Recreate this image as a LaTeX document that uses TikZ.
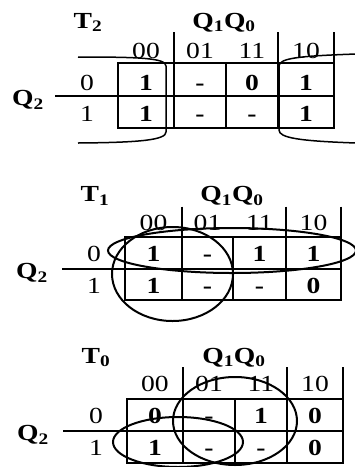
\documentclass[tikz,border=0pt]{standalone}
\usepackage{fontspec}
\setmainfont{Liberation Serif}[FakeStretch=1.2]
\newcommand{\kfont}{\fontsize{23}{27}\selectfont}
\tikzset{
  lbl/.style={anchor=base, inner sep=0pt, font=\kfont},
  val/.style={lbl, font=\kfont\bfseries},
  brace/.style={line width=1.5pt},
}

\begin{document}
\begin{tikzpicture}[x=1pt, y=-1pt, line width=2pt]
  \useasboundingbox (0,0) rectangle (355,467);

  % T_2 map
  \node[val] (t2) at (88,28) {T\textsubscript{2}};
  \node[val] (qa) at (224,28) {Q\textsubscript{1}Q\textsubscript{0}};
  \draw (118,63) rectangle (334,127.5);
  \draw (118,96) -- (334,96);
  \draw (174,32) -- (174,127.5);
  \draw (226,63) -- (226,127.5);
  \draw (278,32) -- (278,127.5);
  \draw (334,32) -- (334,63);
  \coordinate (la) at (55,96);
  \coordinate (ga) at (118,96);
  \draw (la) -- (ga);
  \node[val] (q2a) at (28,105.5) {Q\textsubscript{2}};
  \node[lbl] (ra0) at (87,90.7) {0};
  \node[lbl] (ra1) at (87,121.7) {1};
  \foreach \x/\h/\u/\v [count=\i] in {146/00/1/1, 200/01/-/-, 252/11/0/-, 306/10/1/1} {
    \node[lbl] (ha\i) at (\x,58) {\h};
    \node[val] (a0\i) at (\x,90.7) {\u};
    \node[val] (a1\i) at (\x,121.7) {\v};
  }
  % wrap-around group
  \draw[brace] (78,57) .. controls (140,57) and (166,58) .. (166,66) -- (166,132)
    .. controls (166,140) and (140,142.5) .. (78,143);
  \draw[brace] (356,54) .. controls (300,56) and (279,58) .. (279,66) -- (279,130)
    .. controls (279,138) and (300,141) .. (356,143);

  % T_1 map
  \node[val] (t1) at (95,201.5) {T\textsubscript{1}};
  \node[val] (qb) at (232,201.5) {Q\textsubscript{1}Q\textsubscript{0}};
  \draw (125,237) rectangle (341,300);
  \draw (125,269) -- (341,269);
  \draw (182,206.5) -- (182,300);
  \draw (233,237) -- (233,300);
  \draw (286,206.5) -- (286,300);
  \draw (341,206.5) -- (341,237);
  \coordinate (lb) at (62,269);
  \coordinate (gb) at (125,269);
  \draw (lb) -- (gb);
  \node[val] (q2b) at (32,278.5) {Q\textsubscript{2}};
  \node[lbl] (rb0) at (94,261.7) {0};
  \node[lbl] (rb1) at (94,293.3) {1};
  \foreach \x/\h/\u/\v [count=\i] in {153.5/00/1/1, 207.5/01/-/-, 259.5/11/1/-, 313.5/10/1/0} {
    \node[lbl] (hb\i) at (\x,230) {\h};
    \node[val] (b0\i) at (\x,261.7) {\u};
    \node[val] (b1\i) at (\x,293.3) {\v};
  }
  \draw (232,250.5) ellipse [x radius=124, y radius=22.5];
  \draw (172.5,274) ellipse [x radius=60.5, y radius=47];

  % T_0 map
  \node[val] (t0) at (96,363) {T\textsubscript{0}};
  \node[val] (qc) at (234,363) {Q\textsubscript{1}Q\textsubscript{0}};
  \draw (127,399) rectangle (343,463);
  \draw (127,431) -- (343,431);
  \draw (183,367) -- (183,463);
  \draw (235,399) -- (235,463);
  \draw (287,367) -- (287,463);
  \draw (343,367) -- (343,399);
  \coordinate (lc) at (63,431);
  \coordinate (gc) at (127,431);
  \draw (lc) -- (gc);
  \node[val] (q2c) at (33,440.5) {Q\textsubscript{2}};
  \node[lbl] (rc0) at (96,423.3) {0};
  \node[lbl] (rc1) at (96,455) {1};
  \foreach \x/\h/\u/\v [count=\i] in {155/00/0/1, 209/01/-/-, 261/11/1/-, 315/10/0/0} {
    \node[lbl] (hc\i) at (\x,391.7) {\h};
    \node[val] (c0\i) at (\x,423.3) {\u};
    \node[val] (c1\i) at (\x,455) {\v};
  }
  \draw (235,421) ellipse [x radius=62, y radius=44];
  \draw (178,442) ellipse [x radius=65, y radius=25];
\end{tikzpicture}
\end{document}
